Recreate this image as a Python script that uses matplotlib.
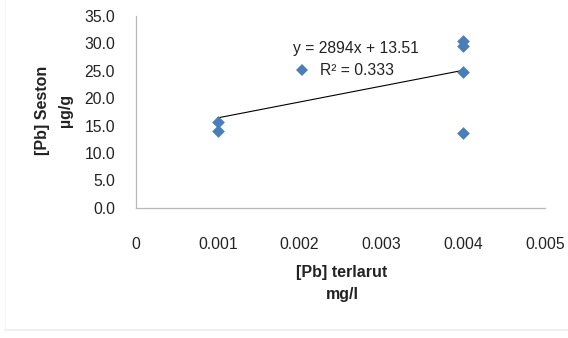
import matplotlib
matplotlib.use("Agg")
import matplotlib.pyplot as plt
from matplotlib.lines import Line2D
import numpy as np

plt.rcParams['font.family'] = ['Liberation Sans', 'DejaVu Sans']

# Data
pb_terlarut = [0.001, 0.001, 0.004, 0.004, 0.004, 0.004]
pb_seston = [15.7, 14.0, 30.5, 29.5, 24.7, 13.6]
trend_slope = 2894
trend_intercept = 13.51
r_squared = 0.333
x_ticks = [0, 0.001, 0.002, 0.003, 0.004, 0.005]
x_tick_labels = ["0", "0.001", "0.002", "0.003", "0.004", "0.005"]
y_ticks = [0, 5, 10, 15, 20, 25, 30, 35]
y_tick_labels = ["0.0", "5.0", "10.0", "15.0", "20.0", "25.0", "30.0", "35.0"]

blue = "#4a7ebb"

fig = plt.figure(figsize=(5.68, 3.38), dpi=100)
fig.patch.set_facecolor("white")
ax = fig.add_axes([136/568, 1-207.7/338, (545-136)/568, (207.7-16)/338])

ax.scatter(pb_terlarut, pb_seston, marker="D", s=42, color=blue, zorder=3, linewidths=0)

xt = np.array([min(pb_terlarut), max(pb_terlarut)])
ax.plot(xt, trend_slope*xt + trend_intercept, color="black", lw=0.8, zorder=2)

ax.set_xlim(0, 0.005)
ax.set_ylim(0, 35)
ax.set_xticks(x_ticks)
ax.set_xticklabels(x_tick_labels)
ax.set_yticks(y_ticks)
ax.set_yticklabels(y_tick_labels)
ax.tick_params(axis="x", length=0, pad=21, labelsize=11.3, colors="#222222")
ax.tick_params(axis="y", length=0, pad=15, labelsize=11.3, colors="#222222")
for s in ["top", "right"]:
    ax.spines[s].set_visible(False)
ax.spines["left"].set_color("#b8b8b8")
ax.spines["bottom"].set_color("#b8b8b8")
ax.spines["left"].set_linewidth(0.9)
ax.spines["bottom"].set_linewidth(0.9)

ax.text(0.385, 0.83, f"y = {trend_slope}x + {trend_intercept}", transform=ax.transAxes,
        fontsize=11.3, color="#222222", ha="left", va="center")
ax.text(0.4495, 0.715, f"R² = {r_squared}", transform=ax.transAxes,
        fontsize=11.3, color="#222222", ha="left", va="center")

handle = Line2D([], [], marker="D", linestyle="none", color=blue, markersize=6.5, markeredgewidth=0)
leg = ax.legend([handle], [""], loc="center", bbox_to_anchor=(0.405, 0.715),
                frameon=False, handlelength=1, handletextpad=0, borderpad=0)

fig.text(342/568, 1-273/338, "[Pb] terlarut", ha="center", va="center",
         fontsize=11.5, fontweight="bold", color="#222222")
fig.text(342/568, 1-295/338, "mg/l", ha="center", va="center",
         fontsize=11.5, fontweight="bold", color="#222222")
fig.text(43/568, 1-110/338, "[Pb] Seston", ha="center", va="center", rotation=90,
         fontsize=11.5, fontweight="bold", color="#222222")
fig.text(66/568, 1-110/338, "µg/g", ha="center", va="center", rotation=90,
         fontsize=11.5, fontweight="bold", color="#222222")

# faint chart border
fig.add_artist(Line2D([5/568, 1], [1-330/338, 1-330/338], color="#f0f0f0", lw=1.5))
fig.add_artist(Line2D([5/568, 5/568], [1-330/338, 1], color="#f6f6f6", lw=1.0))

fig.savefig("out.png", dpi=100)
